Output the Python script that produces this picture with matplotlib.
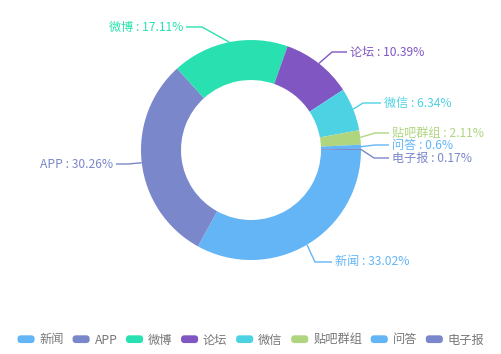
import matplotlib
matplotlib.use('Agg')
import numpy as np
import matplotlib.pyplot as plt
from matplotlib.patches import Patch, FancyBboxPatch
from matplotlib.legend_handler import HandlerPatch

plt.rcParams['font.family'] = ['Noto Sans CJK SC', 'DejaVu Sans']

# data
names = ['新闻', 'APP', '微博', '论坛', '微信', '贴吧群组', '问答', '电子报']
shares = [33.02, 30.26, 17.11, 10.39, 6.34, 2.11, 0.6, 0.17]
colors = ['#63b5f6', '#7a87cb', '#29e1b0', '#7f56c2', '#4dd2e3', '#afd67f', '#63b5f6', '#7a87cb']

# label layout in pixels (top-left origin): elbow point, end of horizontal line
elbows = [(315, 262), (128, 164), (202, 27), (332, 52), (363, 103), (375, 133), (375, 145), (374, 158)]
line_ends = [(332, 262), (116, 164), (186, 27), (347, 52), (381, 103), (389, 133), (389, 145), (389, 158)]

W, H = 501, 354
cx, cy, R, ring = 251, 150, 110, 40


class RoundHandler(HandlerPatch):
    def create_artists(self, legend, orig_handle, xdescent, ydescent, width, height, fontsize, trans):
        p = FancyBboxPatch((-xdescent, -ydescent), width, height,
                           boxstyle='round,pad=0,rounding_size=2.5',
                           facecolor=orig_handle.get_facecolor(), edgecolor='none', transform=trans)
        return [p]


fig = plt.figure(figsize=(W / 100, H / 100), dpi=100)
ax = fig.add_axes([0, 0, 1, 1])


def fy(y):
    return H - y


wedges, _ = ax.pie(shares, colors=colors, radius=R, center=(cx, fy(cy)),
                   startangle=0, counterclock=False,
                   wedgeprops=dict(width=ring, linewidth=0))

for w, name, val, col, el, en in zip(wedges, names, shares, colors, elbows, line_ends):
    mid = np.deg2rad((w.theta1 + w.theta2) / 2)
    ex, ey = cx + R * np.cos(mid), fy(cy) + R * np.sin(mid)
    ax.plot([ex, el[0], en[0]], [ey, fy(el[1]), fy(en[1])], color=col, lw=1, solid_capstyle='butt')
    right = en[0] > el[0]
    ax.text(en[0] + (3 if right else -3), fy(en[1]), f'{name} : {val:g}%',
            color=col, fontsize=8.7, ha='left' if right else 'right', va='center')

ax.set_xlim(0, W)
ax.set_ylim(0, H)
ax.set_aspect('equal')
ax.axis('off')

handles = [Patch(facecolor=c, edgecolor='none') for c in colors]
fig.legend(handles, names, loc='center', bbox_to_anchor=(251 / W, 1 - 340 / H), ncol=8,
           frameon=False, fontsize=8.8, handlelength=1.4, handleheight=0.6,
           handletextpad=0.4, columnspacing=0.7, labelcolor='#777777',
           borderaxespad=0, borderpad=0, handler_map={Patch: RoundHandler()})

fig.savefig('out.png', dpi=100)
